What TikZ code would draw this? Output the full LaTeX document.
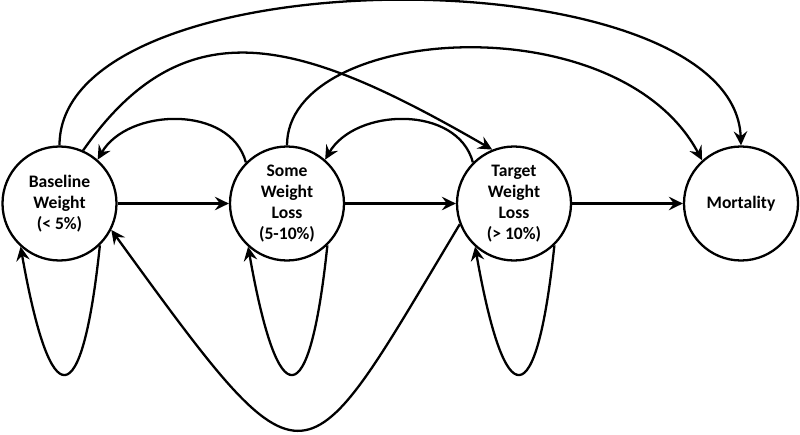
\documentclass[tikz,border=0pt]{standalone}
\usepackage{fontspec}
\setmainfont{Carlito}
\usetikzlibrary{arrows.meta}

\begin{document}
\begin{tikzpicture}[
    state/.style={circle, draw, line width=1.3pt, minimum size=2.28cm, inner sep=0pt,
                  align=center, font=\bfseries\fontsize{10}{12}\selectfont},
    trans/.style={line width=1.3pt, -{Stealth[length=2.8mm, width=2.7mm, inset=1mm]}}
]

\useasboundingbox (0,0) rectangle (16,8.68);

% States
\node[state] (base) at (1.19,4.61) {Baseline\\Weight\\(< 5\%)};
\node[state] (some) at (5.74,4.61) {Some\\Weight\\Loss\\(5-10\%)};
\node[state] (target) at (10.28,4.61) {Target\\Weight\\Loss\\(> 10\%)};
\node[state] (mort) at (14.82,4.61) {Mortality};

% Forward
\draw[trans] (base.east) -- (some.west);
\draw[trans] (some.east) -- (target.west);
\draw[trans] (target.east) -- (mort.west);

% Self loops
\draw[trans] (base.-46) to[out=-96, in=-80, distance=3.45cm] (base.-132);
\draw[trans] (some.-46) to[out=-96, in=-80, distance=3.45cm] (some.-132);
\draw[trans] (target.-46) to[out=-96, in=-80, distance=3.45cm] (target.-132);

% Back one step
\draw[trans] (some.135) to[out=105, in=60, distance=1.2cm] (base.49);
\draw[trans] (target.135) to[out=105, in=60, distance=1.2cm] (some.49);

% Back two steps
\draw[trans] (target.201) to[out=-121, in=-54, out distance=6.2cm, in distance=6.8cm] (base.-27);

% Long jumps
\draw[trans] (base.66) to[out=55, in=150, out distance=3.6cm, in distance=4.4cm] (target.112);
\draw[trans] (some.90) to[out=90, in=118, out distance=2.4cm, in distance=3.6cm] (mort.132);
\draw[trans] (base.90) to[out=90, in=92, distance=3.86cm] (mort.90);

\end{tikzpicture}
\end{document}
